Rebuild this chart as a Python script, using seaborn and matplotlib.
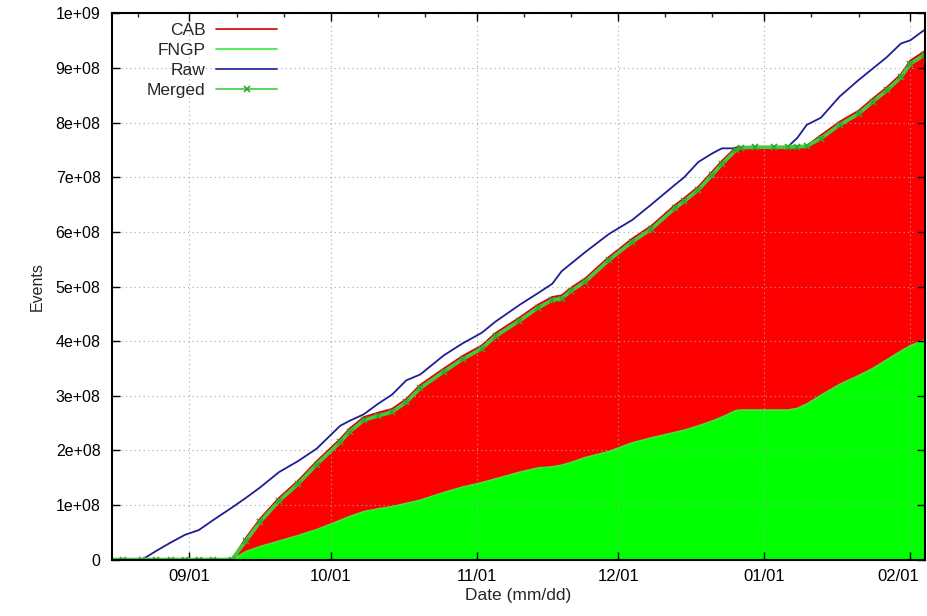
import datetime as dt
import numpy as np
import pandas as pd
import seaborn as sns
import matplotlib
matplotlib.use("Agg")
import matplotlib.pyplot as plt
import matplotlib.dates as mdates
import matplotlib.transforms as mtransforms
from matplotlib.ticker import FuncFormatter, MultipleLocator

# days counted from 09/01, values in units of 1e8 events
day_offsets = [-17, -14, -10, -7, -4, -1, 2, 5, 9,
               12, 15, 19, 23, 27, 32, 34, 37, 40, 43,
               46, 49, 54, 58, 62, 65, 70, 74, 77, 79,
               81, 84, 89, 94, 98, 103, 105, 108, 111, 113,
               116, 117, 120, 124, 127, 129, 131, 134, 138, 142,
               145, 148, 151, 153, 156]

raw = [0, 0, 0, 0.16, 0.31, 0.45, 0.54, 0.72, 0.95,
       1.13, 1.32, 1.60, 1.80, 2.03, 2.45, 2.54, 2.66, 2.85, 3.02,
       3.28, 3.39, 3.74, 3.96, 4.15, 4.36, 4.66, 4.88, 5.05, 5.28,
       5.42, 5.63, 5.96, 6.22, 6.50, 6.86, 7.00, 7.28, 7.44, 7.53,
       7.53, 7.53, 7.54, 7.54, 7.56, 7.72, 7.96, 8.09, 8.48, 8.78,
       8.99, 9.20, 9.45, 9.51, 9.70]

merged = [0, 0, 0, 0, 0, 0, 0, 0, 0,
          0.34, 0.69, 1.07, 1.38, 1.74, 2.15, 2.34, 2.55, 2.63, 2.70,
          2.88, 3.14, 3.44, 3.67, 3.86, 4.09, 4.37, 4.61, 4.75, 4.78,
          4.92, 5.09, 5.48, 5.82, 6.05, 6.43, 6.56, 6.77, 7.05, 7.24,
          7.50, 7.54, 7.55, 7.55, 7.55, 7.56, 7.57, 7.71, 7.96, 8.16,
          8.38, 8.59, 8.83, 9.08, 9.24]

fngp = [0, 0, 0, 0, 0, 0, 0, 0, 0,
        0.15, 0.24, 0.34, 0.44, 0.55, 0.72, 0.79, 0.88, 0.93, 0.97,
        1.03, 1.09, 1.23, 1.33, 1.41, 1.48, 1.60, 1.68, 1.70, 1.73,
        1.78, 1.87, 1.98, 2.14, 2.23, 2.33, 2.37, 2.45, 2.54, 2.61,
        2.73, 2.74, 2.74, 2.74, 2.74, 2.77, 2.85, 3.01, 3.21, 3.37,
        3.50, 3.66, 3.82, 3.92, 4.02]

cab = [0, 0, 0, 0, 0, 0, 0, 0, 0,
       0.40, 0.75, 1.13, 1.44, 1.80, 2.21, 2.40, 2.61, 2.69, 2.76,
       2.94, 3.20, 3.50, 3.73, 3.92, 4.15, 4.43, 4.67, 4.81, 4.84,
       4.98, 5.15, 5.54, 5.88, 6.11, 6.49, 6.62, 6.83, 7.11, 7.30,
       7.55, 7.56, 7.56, 7.56, 7.56, 7.57, 7.58, 7.77, 8.02, 8.22,
       8.44, 8.65, 8.89, 9.14, 9.31]

base = dt.datetime(2008, 9, 1)
df = pd.DataFrame({
    "date": [base + dt.timedelta(days=d) for d in day_offsets],
    "CAB": np.array(cab) * 1e8,
    "FNGP": np.array(fngp) * 1e8,
    "Raw": np.array(raw) * 1e8,
    "Merged": np.array(merged) * 1e8,
})

sns.set_theme(style="white")
plt.rcParams["font.family"] = ["Liberation Sans", "DejaVu Sans"]
plt.rcParams["axes.edgecolor"] = "black"

fig = plt.figure(figsize=(9.27, 6.16), dpi=100)
ax = fig.add_axes([0.1205, 0.0917, 0.8773, 0.8864])

# stacked areas: FNGP at the bottom, CAB total on top
ax.fill_between(df["date"], df["FNGP"], df["CAB"], color="#ff0000", lw=0, zorder=1)
ax.fill_between(df["date"], 0, df["FNGP"], color="#00ff00", lw=0, zorder=1)

sns.lineplot(data=df, x="date", y="CAB", ax=ax, color="#d40000", lw=1.2,
             label="CAB", zorder=2)
sns.lineplot(data=df, x="date", y="FNGP", ax=ax, color="#3ee83e", lw=1.0,
             label="FNGP", zorder=2)
sns.lineplot(data=df, x="date", y="Raw", ax=ax, color="#1e1e96", lw=1.3,
             label="Raw", zorder=3)
sns.lineplot(data=df, x="date", y="Merged", ax=ax, color="#40cc40", lw=2.6,
             marker="x", markersize=4, markeredgewidth=1.2,
             markeredgecolor="#2ca82c", label="Merged", zorder=4)

ax.set_xlim(base + dt.timedelta(days=-16.5), base + dt.timedelta(days=156.1))
ax.set_ylim(0, 1e9)

ax.xaxis.set_major_locator(mdates.MonthLocator())
ax.xaxis.set_major_formatter(mdates.DateFormatter("%m/%d"))
ax.xaxis.set_minor_locator(mdates.DayLocator(bymonthday=[11, 21]))
ax.yaxis.set_major_locator(MultipleLocator(1e8))
ax.yaxis.set_major_formatter(FuncFormatter(lambda v, p: "0" if v == 0 else "%.0e" % v))

ax.tick_params(which="major", direction="in", length=6, width=1, top=True,
               right=True, bottom=True, left=True, colors="black", pad=8)
ax.tick_params(axis="x", which="major", labelsize=12, pad=7)
ax.tick_params(axis="y", which="major", labelsize=11.5, pad=8)
ax.tick_params(which="minor", direction="in", length=3, width=1, top=True,
               bottom=False, labelbottom=False)
ax.grid(True, which="major", color="#a8a8a8", lw=0.8, linestyle=(0, (1, 3)))
ax.set_axisbelow(False)
for s in ax.spines.values():
    s.set_linewidth(1.5)
    s.set_zorder(6)

ax.set_xlabel("Date (mm/dd)", fontsize=12.5, labelpad=3)
ax.set_ylabel("Events", fontsize=11.5, labelpad=8)

leg = ax.legend(loc="upper left", bbox_to_anchor=(0.035, 0.995), frameon=False,
                markerfirst=False, fontsize=12.5, handlelength=3.5,
                handletextpad=0.6, labelspacing=0.28, borderaxespad=0)
leg._legend_box._children[-1]._children[0].align = "right"
for h in leg.legend_handles:
    h.set_linewidth(1.2)

# keep the last date label inside the figure, as the original does
fig.canvas.draw()
shift = mtransforms.ScaledTranslation(-12 / 100, 0, fig.dpi_scale_trans)
for tick in ax.xaxis.get_major_ticks():
    if tick.label1.get_text() == "02/01":
        tick.label1.set_transform(tick.label1.get_transform() + shift)

fig.savefig("out.png", dpi=100)
